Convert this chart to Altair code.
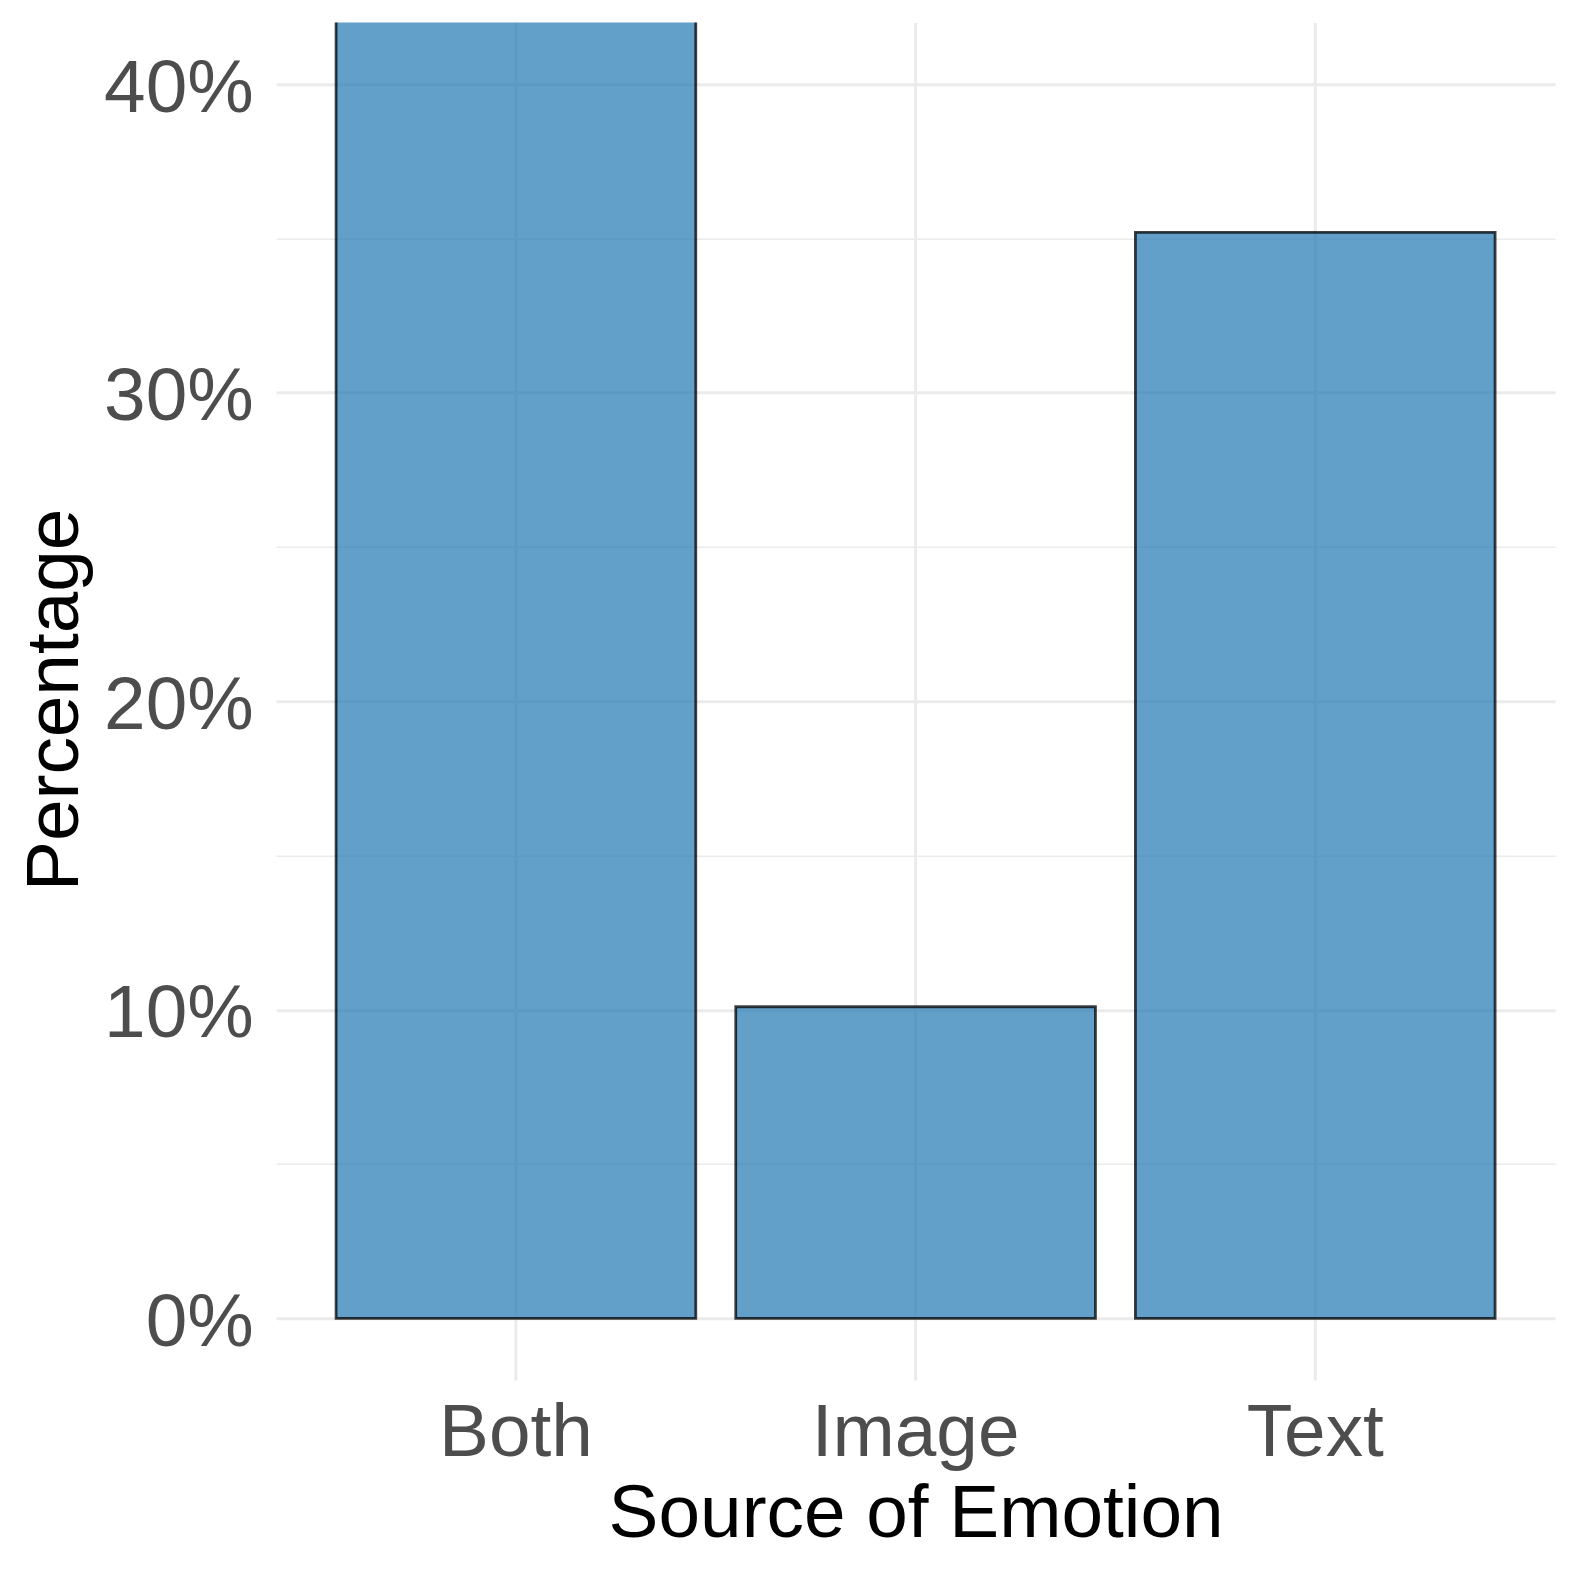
import altair as alt
import pandas as pd

categories = ["Both", "Image", "Text"]
percentages = [0.547, 0.101, 0.352]
y_ticks = [0.0, 0.05, 0.10, 0.15, 0.20, 0.25, 0.30, 0.35, 0.40]

df = pd.DataFrame({"source": categories, "pct": percentages})

FONT = "Liberation Sans"
major_test = "round(datum.value * 100) % 10 === 0"

W = 1283
H = 1362

bars = alt.Chart(df).mark_bar(
    fill="#1f77b4",
    fillOpacity=0.7,
    stroke="#000000",
    strokeOpacity=0.75,
    strokeWidth=2.8,
    clip=True,
).encode(
    x=alt.X(
        "source:N",
        sort=categories,
        scale=alt.Scale(paddingInner=0.1, paddingOuter=0.15),
        axis=alt.Axis(
            title="Source of Emotion",
            labelAngle=0,
            labelFont=FONT,
            labelFontSize=75,
            labelColor="#4D4D4D",
            labelBaseline="alphabetic",
            labelPadding=76,
            labelLimit=0,
            ticks=False,
            tickSize=0,
            domain=False,
            grid=True,
            gridColor="#EBEBEB",
            gridWidth=3,
            titleFont=FONT,
            titleFontSize=75,
            titleFontWeight="normal",
            titleColor="#000000",
            titleX=W / 2,
            titleY=157,
            titleAlign="center",
            titleBaseline="alphabetic",
        ),
    ),
    y=alt.Y(
        "pct:Q",
        scale=alt.Scale(domain=[-0.02, 0.42], nice=False, zero=False),
        axis=alt.Axis(
            title="Percentage",
            values=y_ticks,
            labelExpr=f"{major_test} ? format(datum.value, '.0%') : ''",
            labelFont=FONT,
            labelFontSize=75,
            labelColor="#4D4D4D",
            labelBaseline="alphabetic",
            labelOffset=27,
            labelPadding=23,
            labelLimit=0,
            ticks=False,
            tickSize=0,
            domain=False,
            grid=True,
            gridColor="#EBEBEB",
            gridWidth={"condition": {"test": major_test, "value": 3}, "value": 1.6},
            titleFont=FONT,
            titleFontSize=75,
            titleFontWeight="normal",
            titleColor="#000000",
            titleAngle=-90,
            titleX=-199,
            titleY=H / 2 - 2,
            titleAlign="center",
            titleBaseline="alphabetic",
        ),
    ),
    y2=alt.datum(0),
)

chart = bars.properties(
    width=W,
    height=H,
    autosize=alt.AutoSizeParams(type="none"),
    padding={"left": 269, "top": 12, "right": 15, "bottom": 190},
    background="#FFFFFF",
).configure_view(stroke=None)

chart.save("out.html", embed_options={"renderer": "svg", "actions": False})
